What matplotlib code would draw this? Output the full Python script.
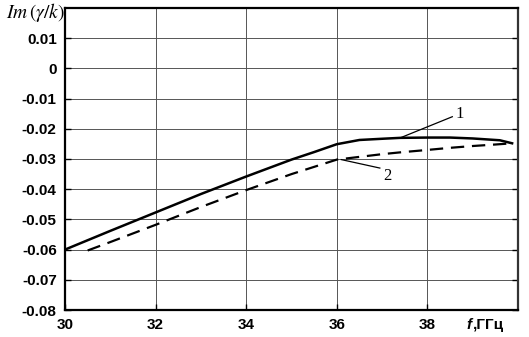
import matplotlib
matplotlib.use("Agg")
import matplotlib.pyplot as plt
import numpy as np

f1 = [30.0, 31.0, 32.0, 33.0, 34.0, 35.0, 35.5, 36.0, 36.5, 37.0, 37.4, 38.0, 38.5, 39.0, 39.6, 39.87]
y1 = [-0.060, -0.0538, -0.0477, -0.0416, -0.0358, -0.0302, -0.0277, -0.0251, -0.0237, -0.0233, -0.0230, -0.0229, -0.0229, -0.0232, -0.0238, -0.0248]
f2 = [30.5, 31.0, 32.0, 33.0, 34.0, 35.0, 35.5, 36.0, 37.0, 37.4, 38.0, 38.5, 39.0, 39.5, 39.87]
y2 = [-0.0603, -0.0575, -0.0518, -0.0459, -0.0403, -0.0350, -0.0326, -0.0302, -0.0284, -0.0278, -0.0270, -0.0263, -0.0257, -0.0252, -0.0248]

xticks = [30, 32, 34, 36, 38]
yticks = [0.01, 0, -0.01, -0.02, -0.03, -0.04, -0.05, -0.06, -0.07, -0.08]
ytick_labels = ["0.01", "0", "-0.01", "-0.02", "-0.03", "-0.04", "-0.05", "-0.06", "-0.07", "-0.08"]

fig = plt.figure(figsize=(5.29, 3.37), dpi=100)
ax = fig.add_axes([65/529, 1-310/337, (518-65)/529, (310-8)/337])
ax.set_xlim(30, 40)
ax.set_ylim(-0.08, 0.02)

ax.plot(f1, y1, color="black", lw=1.8, solid_joinstyle="round")
ax.plot(f2, y2, color="black", lw=1.6, dashes=(6, 3.5))

ax.set_xticks(xticks)
ax.set_xticklabels([str(t) for t in xticks])
ax.set_yticks(yticks)
ax.set_yticklabels(ytick_labels)
ax.grid(True, color="#555555", lw=0.7)
ax.tick_params(direction="in", length=4, width=1, right=True, labelright=False,
               labelsize=11, pad=6)
for lab in ax.get_xticklabels() + ax.get_yticklabels():
    lab.set_fontfamily("Liberation Sans")
    lab.set_fontweight("bold")
for s in ax.spines.values():
    s.set_linewidth(1.6)
    s.set_color("black")
ax.spines["right"].set_color("#333333")

# leader lines and labels
ax.plot([37.4, 38.55], [-0.0230, -0.0160], color="black", lw=0.9)
ax.text(38.62, -0.0150, "1", fontsize=12, family="Liberation Serif", va="center", ha="left")
ax.plot([36.1, 36.95], [-0.0302, -0.0330], color="black", lw=0.9)
ax.text(37.12, -0.0355, "2", fontsize=12, family="Liberation Serif", va="center", ha="center")

fig.text(6/529, 1-13/337, r"$Im\,(\gamma/k)$", fontsize=14, family="Liberation Serif",
         ha="left", va="center", math_fontfamily="stix")
fig.text(466/529, 1-325/337, "f", fontsize=11, family="Liberation Sans", fontweight="bold",
         style="italic", ha="left", va="center")
fig.text(473/529, 1-325/337, ",ГГц", fontsize=11, family="Liberation Sans", fontweight="bold",
         ha="left", va="center")

fig.savefig("out.png", dpi=100)
